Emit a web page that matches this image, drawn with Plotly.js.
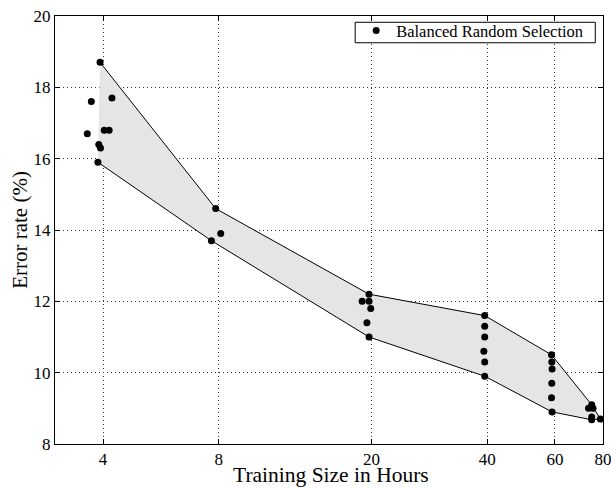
<!DOCTYPE html>
<html>
<head>
<meta charset="utf-8">
<script src="https://cdn.plot.ly/plotly-3.0.1.min.js"></script>
<style>html,body{margin:0;padding:0;background:#fff;}#chart{width:611px;height:488px;}</style>
</head>
<body>
<div id="chart"></div>
<script>
// Individual runs: training size (hours) and error rate (%)
const runHours = [3.93, 3.73, 4.22, 3.64, 4.03, 4.15, 3.90, 3.94, 3.88,
                  7.86, 8.10, 7.66,
                  19.7, 18.9, 19.7, 19.9, 19.45, 19.7,
                  39.4, 39.4, 39.4, 39.2, 39.4, 39.4,
                  58.8, 58.9, 59.0, 58.9, 58.8, 59.0,
                  74.8, 73.4, 75.4, 74.8, 74.8, 78.8];
const runError = [18.7, 17.6, 17.7, 16.7, 16.8, 16.8, 16.4, 16.3, 15.9,
                  14.6, 13.9, 13.7,
                  12.2, 12.0, 12.0, 11.8, 11.4, 11.0,
                  11.6, 11.3, 11.0, 10.6, 10.3, 9.9,
                  10.5, 10.3, 10.1, 9.7, 9.3, 8.9,
                  9.1, 9.0, 9.0, 8.76, 8.68, 8.7];
// Envelope (max / min) of the runs
const upperHours = [3.93, 7.86, 19.7, 39.4, 58.8, 74.8, 78.8];
const upperError = [18.7, 14.6, 12.2, 11.6, 10.5, 9.1, 8.7];
const lowerHours = [3.88, 7.66, 19.7, 39.4, 59.0, 74.8, 78.8];
const lowerError = [15.9, 13.7, 11.0, 9.9, 8.9, 8.68, 8.7];
const xTicks = [4, 8, 20, 40, 60, 80];
const yTicks = [8, 10, 12, 14, 16, 18, 20];
const xTitle = 'Training Size in Hours';
const yTitle = 'Error rate (%)';

const bandX = upperHours.concat(lowerHours.slice().reverse());
const bandY = upperError.concat(lowerError.slice().reverse());

const serif = 'Liberation Serif, Times New Roman, serif';

const traces = [
  {
    x: bandX, y: bandY, type: 'scatter', mode: 'lines',
    fill: 'toself', fillcolor: '#e5e5e5',
    line: {color: '#000', width: 1},
    showlegend: false, hoverinfo: 'skip'
  },
  {
    x: runHours, y: runError, type: 'scatter', mode: 'markers',
    name: 'Balanced Random Selection',
    marker: {color: '#000', size: 7}
  }
];

const axisCommon = {
  showline: true, linecolor: '#000', linewidth: 1, mirror: 'ticks',
  ticks: 'inside', ticklen: 5, tickcolor: '#000',
  showgrid: true, gridcolor: '#333', griddash: '1px,3px', gridwidth: 1,
  zeroline: false, ticklabeloverflow: 'allow',
  tickfont: {family: serif, size: 17, color: '#000'}
};

// plot area in pixels: x 55..602.7, y 15.7..444.3
const px = v => (v - 55) / 547.7;
const py = v => (444.3 - v) / 428.6;

const layout = {
  width: 611, height: 488,
  margin: {l: 55, r: 8, t: 16, b: 44},
  paper_bgcolor: '#fff', plot_bgcolor: '#fff',
  font: {family: serif, color: '#000'},
  xaxis: Object.assign({}, axisCommon, {
    type: 'log',
    range: [Math.log10(3), Math.log10(80.05)],
    tickvals: xTicks, ticktext: xTicks.map(String)
  }),
  yaxis: Object.assign({}, axisCommon, {
    range: [8, 20],
    tickvals: yTicks,
    title: {text: yTitle, font: {family: serif, size: 21, color: '#000'}, standoff: 0}
  }),
  annotations: [{
    text: xTitle, xref: 'paper', yref: 'paper',
    x: px(331), y: py(475.5), xanchor: 'center', yanchor: 'middle',
    showarrow: false, font: {family: serif, size: 21.5, color: '#000'}
  }],
  legend: {
    x: px(356), y: py(13), xanchor: 'left', yanchor: 'top',
    bgcolor: 'rgba(0,0,0,0)', borderwidth: 0,
    font: {family: serif, size: 16.5, color: '#000'},
    tracegroupgap: 0
  },
  shapes: [{
    type: 'rect', xref: 'paper', yref: 'paper', layer: 'above',
    x0: px(355), x1: px(595), y0: py(22), y1: py(42.5),
    line: {color: '#000', width: 1}, fillcolor: '#fff'
  }],
  showlegend: true
};

Plotly.newPlot('chart', traces, layout, {staticPlot: true, displayModeBar: false});
</script>
</body>
</html>
